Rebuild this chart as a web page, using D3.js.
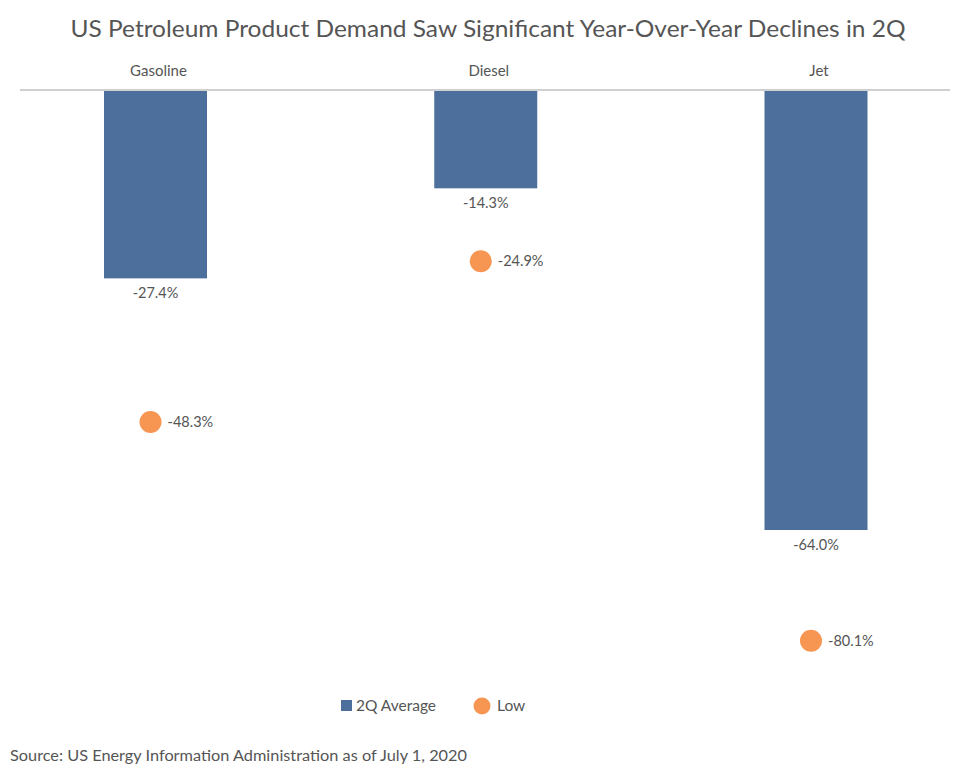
<!DOCTYPE html>
<html>
<head>
<meta charset="utf-8">
<script src="https://cdn.jsdelivr.net/npm/d3@7"></script>
<style>
	body { margin: 0; background: #fff; }
	text { font-family: Lato, "Noto Sans", sans-serif; fill: #555; }
</style>
</head>
<body>
<div></div>
<script>
var categories = ["Gasoline", "Diesel", "Jet"],
	averageValues = [-27.4, -14.3, -64.0],
	lowValues = [-48.3, -24.9, -80.1],
	legendLabels = ["2Q Average", "Low"];

var width = 970,
	height = 782,
	barColor = "#4c6f9b",
	dotColor = "#f79552",
	barWidth = 103;

var svgContainer = d3.select("div")
	.append("svg")
	.attr("width", width)
	.attr("height", height);

var xScale = d3.scalePoint().domain(categories).range([155.5, 816]);
var yScale = d3.scaleLinear().domain([0, -80.1]).range([90, 640.7]);

function fmt(v) {
	return v.toFixed(1) + "%";
}

// title
svgContainer.append("text")
	.attr("x", 488)
	.attr("y", 37)
	.attr("text-anchor", "middle")
	.attr("textLength", 835)
	.attr("lengthAdjust", "spacingAndGlyphs")
	.style("font-size", "24px")
	.text("US Petroleum Product Demand Saw Significant Year-Over-Year Declines in 2Q");

// category labels on top
svgContainer.selectAll(".cat")
	.data(categories)
	.enter()
	.append("text")
	.attr("x", d => xScale(d) + 3)
	.attr("y", 76)
	.attr("text-anchor", "middle")
	.style("font-size", "15px")
	.text(d => d);

// bars
svgContainer.selectAll(".bar")
	.data(averageValues)
	.enter()
	.append("rect")
	.attr("x", (d, i) => xScale(categories[i]) - barWidth / 2)
	.attr("y", yScale(0))
	.attr("width", barWidth)
	.attr("height", d => yScale(d) - yScale(0))
	.style("fill", barColor);

svgContainer.selectAll(".barLabel")
	.data(averageValues)
	.enter()
	.append("text")
	.attr("x", (d, i) => xScale(categories[i]))
	.attr("y", d => yScale(d) + 20)
	.attr("text-anchor", "middle")
	.style("font-size", "14.5px")
	.text(fmt);

// zero line
svgContainer.append("line")
	.attr("x1", 20)
	.attr("x2", 950)
	.attr("y1", yScale(0))
	.attr("y2", yScale(0))
	.attr("stroke", "#d0d0d0")
	.attr("stroke-width", 2);

// low dots
svgContainer.selectAll(".dot")
	.data(lowValues)
	.enter()
	.append("circle")
	.attr("cx", (d, i) => xScale(categories[i]) - 5)
	.attr("cy", d => yScale(d))
	.attr("r", 11)
	.style("fill", dotColor);

svgContainer.selectAll(".dotLabel")
	.data(lowValues)
	.enter()
	.append("text")
	.attr("x", (d, i) => xScale(categories[i]) + 12)
	.attr("y", d => yScale(d) + 5)
	.style("font-size", "14.5px")
	.text(fmt);

// legend
var legend = svgContainer.append("g");
legend.append("rect")
	.attr("x", 341).attr("y", 700)
	.attr("width", 11).attr("height", 11)
	.style("fill", barColor);
legend.append("text")
	.attr("x", 356).attr("y", 711)
	.style("font-size", "15.5px")
	.text(legendLabels[0]);
legend.append("circle")
	.attr("cx", 482).attr("cy", 706)
	.attr("r", 8.5)
	.style("fill", dotColor);
legend.append("text")
	.attr("x", 497).attr("y", 711)
	.style("font-size", "15.5px")
	.text(legendLabels[1]);

// source
svgContainer.append("text")
	.attr("x", 10)
	.attr("y", 761)
	.attr("textLength", 457)
	.attr("lengthAdjust", "spacingAndGlyphs")
	.style("font-size", "15.5px")
	.text("Source: US Energy Information Administration as of July 1, 2020");
</script>
</body>
</html>
